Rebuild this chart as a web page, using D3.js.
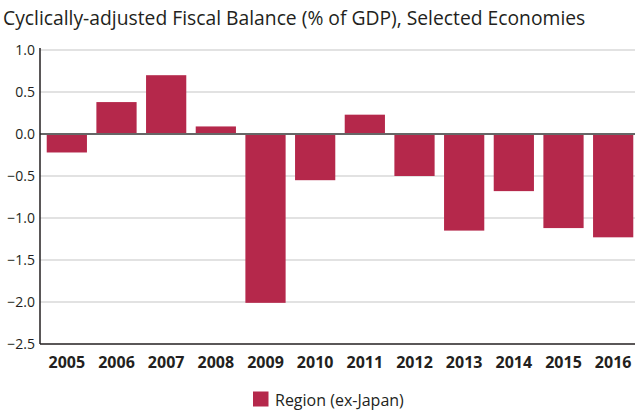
<!DOCTYPE html>
<html>
<head>
<meta charset="utf-8">
<script src="https://cdn.jsdelivr.net/npm/d3@7"></script>
<style>
  body { margin: 0; background: #fff; }
  svg { display: block; font-family: "Open Sans", sans-serif; }
</style>
</head>
<body>
<div id="graphic"></div>
<script>
(function() {
  var width = 635, height = 410;
  var margin = { top: 50, left: 40, right: -3, bottom: 66 };

  /*** DATA ***/
  var years = ["2005", "2006", "2007", "2008", "2009", "2010", "2011", "2012", "2013", "2014", "2015", "2016"];
  var balance = [-0.22, 0.38, 0.70, 0.09, -2.01, -0.55, 0.23, -0.50, -1.15, -0.68, -1.12, -1.23];
  var yTicks = [1.0, 0.5, 0.0, -0.5, -1.0, -1.5, -2.0, -2.5];
  var seriesName = "Region (ex-Japan)";
  var title = "Cyclically-adjusted Fiscal Balance (% of GDP), Selected Economies";

  var barColor = "#b5284b";
  var gridColor = "#d9d9d9";
  var textColor = "#231f20";

  var svg = d3.select("#graphic")
    .append("svg")
    .attr("width", width)
    .attr("height", height);

  /*** SCALES ***/
  var x = d3.scaleBand()
    .domain(years)
    .range([margin.left + 2, width - margin.right])
    .paddingInner(0.19)
    .paddingOuter(0.095);

  var y = d3.scaleLinear()
    .domain([-2.5, 1.0])
    .range([height - margin.bottom, margin.top]);

  /*** TITLE ***/
  svg.append("text")
    .attr("x", 3)
    .attr("y", 25)
    .attr("font-size", "19.3px")
    .attr("fill", textColor)
    .text(title);

  /*** GRIDLINES ***/
  svg.append("g")
    .selectAll("line")
    .data(yTicks.filter(function(d) { return d !== 0 && d !== -2.5; }))
    .enter().append("line")
    .attr("x1", margin.left)
    .attr("x2", width)
    .attr("y1", function(d) { return y(d); })
    .attr("y2", function(d) { return y(d); })
    .attr("stroke", gridColor)
    .attr("stroke-width", 1.5);

  /*** BARS ***/
  svg.append("g")
    .selectAll("rect")
    .data(balance)
    .enter().append("rect")
    .attr("x", function(d, i) { return x(years[i]); })
    .attr("y", function(d) { return y(Math.max(0, d)); })
    .attr("width", x.bandwidth())
    .attr("height", function(d) { return Math.abs(y(d) - y(0)); })
    .attr("fill", barColor);

  /*** ZERO LINE ***/
  svg.append("line")
    .attr("x1", margin.left)
    .attr("x2", width)
    .attr("y1", y(0))
    .attr("y2", y(0))
    .attr("stroke", "#666")
    .attr("stroke-width", 2);

  /*** Y AXIS ***/
  var yAxis = svg.append("g")
    .attr("transform", "translate(" + margin.left + ",0)")
    .call(d3.axisLeft(y).tickValues(yTicks).tickFormat(d3.format(".1f")).tickSize(0).tickPadding(5));
  yAxis.select(".domain").remove();
  yAxis.selectAll("text")
    .attr("font-family", "Open Sans, sans-serif")
    .attr("font-size", "14px")
    .attr("fill", textColor);

  svg.append("line")
    .attr("x1", margin.left)
    .attr("x2", margin.left)
    .attr("y1", y(1.0) - 2)
    .attr("y2", y(-2.5))
    .attr("stroke", textColor)
    .attr("stroke-width", 1.5);

  /*** X AXIS ***/
  var xAxis = svg.append("g")
    .attr("transform", "translate(0," + y(-2.5) + ")")
    .call(d3.axisBottom(x).tickSize(0).tickPadding(12.5));
  xAxis.select(".domain").remove();
  xAxis.selectAll("text")
    .attr("font-family", "Open Sans, sans-serif")
    .attr("font-size", "16px")
    .attr("font-weight", "bold")
    .attr("fill", textColor);

  svg.append("line")
    .attr("x1", margin.left)
    .attr("x2", width)
    .attr("y1", y(-2.5))
    .attr("y2", y(-2.5))
    .attr("stroke", textColor)
    .attr("stroke-width", 1.5);

  /*** LEGEND ***/
  var legend = svg.append("g").attr("transform", "translate(253,391.5)");
  legend.append("rect")
    .attr("width", 15.5)
    .attr("height", 15)
    .attr("fill", barColor);
  legend.append("text")
    .attr("x", 22)
    .attr("y", 14.5)
    .attr("font-size", "16px")
    .attr("fill", textColor)
    .text(seriesName);
})();
</script>
</body>
</html>
